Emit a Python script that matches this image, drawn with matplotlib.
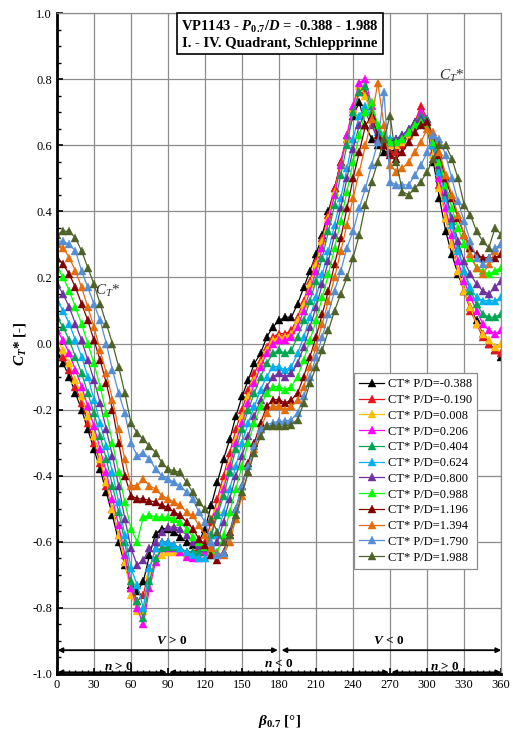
import matplotlib
matplotlib.use("Agg")
import matplotlib.pyplot as plt
import numpy as np

plt.rcParams['font.family'] = ['Liberation Serif', 'DejaVu Serif']
plt.rcParams['mathtext.fontset'] = 'custom'
plt.rcParams['mathtext.rm'] = 'Liberation Serif'
plt.rcParams['mathtext.it'] = 'Liberation Serif:italic'
plt.rcParams['mathtext.bf'] = 'Liberation Serif:italic:bold'
plt.rcParams['mathtext.sf'] = 'Liberation Serif:bold'

# Anstellwinkel beta_0.7 [deg]
beta = list(range(0, 361, 5))

pd_labels = ['-0.388', '-0.190', '0.008', '0.206', '0.404', '0.624',
             '0.800', '0.988', '1.196', '1.394', '1.790', '1.988']
colors = ['#000000', '#e8141c', '#ffc000', '#ff00ff', '#00a651', '#00b0f0',
          '#7030a0', '#00ff00', '#800000', '#e46c0a', '#558ed5', '#4f6228']

ct_m0388 = [-0.03, -0.06, -0.10, -0.15, -0.20, -0.26, -0.32, -0.38, -0.45, -0.52, -0.60, -0.67,
            -0.73, -0.75, -0.72, -0.64, -0.575, -0.56, -0.56, -0.57, -0.585, -0.60, -0.61, -0.60,
            -0.56, -0.49, -0.42, -0.35, -0.29, -0.22, -0.16, -0.11, -0.06, -0.03, 0.02, 0.05,
            0.07, 0.08, 0.08, 0.12, 0.17, 0.22, 0.27, 0.33, 0.40, 0.47, 0.55, 0.62,
            0.69, 0.73, 0.66, 0.62, 0.60, 0.58, 0.58, 0.59, 0.61, 0.63, 0.66, 0.68,
            0.66, 0.55, 0.44, 0.34, 0.27, 0.21, 0.16, 0.11, 0.07, 0.03, 0.00, -0.02,
            -0.04]
ct_m0190 = [-0.01, -0.04, -0.08, -0.13, -0.18, -0.24, -0.30, -0.36, -0.43, -0.50, -0.58, -0.66,
            -0.74, -0.78, -0.76, -0.68, -0.62, -0.60, -0.60, -0.61, -0.62, -0.63, -0.63, -0.62,
            -0.60, -0.54, -0.47, -0.40, -0.33, -0.26, -0.20, -0.14, -0.09, -0.05, -0.01, 0.02,
            0.03, 0.03, 0.04, 0.08, 0.13, 0.19, 0.25, 0.32, 0.39, 0.47, 0.55, 0.63,
            0.71, 0.76, 0.76, 0.68, 0.62, 0.60, 0.58, 0.58, 0.60, 0.63, 0.67, 0.72,
            0.68, 0.58, 0.48, 0.38, 0.30, 0.22, 0.16, 0.10, 0.06, 0.02, 0.00, -0.02,
            -0.03]
ct_0008 = [0.01, -0.02, -0.06, -0.11, -0.16, -0.22, -0.28, -0.35, -0.42, -0.50, -0.58, -0.66,
           -0.76, -0.81, -0.81, -0.70, -0.66, -0.64, -0.63, -0.63, -0.63, -0.64, -0.64, -0.64,
           -0.62, -0.57, -0.50, -0.43, -0.36, -0.29, -0.22, -0.16, -0.11, -0.06, -0.02, 0.01,
           0.02, 0.02, 0.03, 0.07, 0.12, 0.18, 0.24, 0.31, 0.38, 0.46, 0.54, 0.62,
           0.71, 0.78, 0.75, 0.68, 0.63, 0.61, 0.60, 0.60, 0.61, 0.63, 0.66, 0.69,
           0.66, 0.57, 0.47, 0.38, 0.30, 0.22, 0.16, 0.11, 0.06, 0.03, 0.01, -0.01,
           0.00]
ct_0206 = [0.04, 0.01, -0.03, -0.08, -0.13, -0.19, -0.25, -0.32, -0.39, -0.47, -0.55, -0.64,
           -0.74, -0.80, -0.85, -0.74, -0.66, -0.62, -0.62, -0.62, -0.63, -0.645, -0.65, -0.65,
           -0.63, -0.58, -0.51, -0.44, -0.37, -0.30, -0.24, -0.18, -0.12, -0.07, -0.03, 0.00,
           0.01, 0.01, 0.02, 0.05, 0.10, 0.16, 0.22, 0.29, 0.37, 0.45, 0.54, 0.63,
           0.72, 0.79, 0.80, 0.72, 0.65, 0.62, 0.61, 0.61, 0.62, 0.64, 0.67, 0.70,
           0.68, 0.60, 0.50, 0.41, 0.33, 0.25, 0.19, 0.14, 0.10, 0.06, 0.04, 0.03,
           0.04]
ct_0404 = [0.08, 0.05, 0.01, -0.04, -0.09, -0.15, -0.21, -0.28, -0.35, -0.43, -0.51, -0.60,
           -0.72, -0.78, -0.83, -0.72, -0.65, -0.62, -0.615, -0.615, -0.62, -0.63, -0.63, -0.63,
           -0.62, -0.58, -0.52, -0.46, -0.39, -0.32, -0.26, -0.20, -0.15, -0.10, -0.06, -0.03,
           -0.02, -0.03, -0.02, 0.02, 0.07, 0.13, 0.19, 0.26, 0.34, 0.42, 0.51, 0.60,
           0.70, 0.76, 0.78, 0.70, 0.65, 0.63, 0.62, 0.62, 0.63, 0.65, 0.67, 0.69,
           0.68, 0.61, 0.53, 0.45, 0.37, 0.29, 0.22, 0.16, 0.12, 0.09, 0.08, 0.08,
           0.09]
ct_0624 = [0.13, 0.10, 0.06, 0.01, -0.04, -0.10, -0.17, -0.24, -0.31, -0.39, -0.48, -0.58,
           -0.68, -0.73, -0.80, -0.68, -0.62, -0.60, -0.60, -0.61, -0.62, -0.63, -0.64, -0.65,
           -0.65, -0.64, -0.58, -0.51, -0.44, -0.37, -0.30, -0.24, -0.19, -0.14, -0.10, -0.07,
           -0.07, -0.08, -0.07, -0.03, 0.02, 0.08, 0.14, 0.21, 0.28, 0.36, 0.44, 0.53,
           0.62, 0.69, 0.72, 0.68, 0.64, 0.63, 0.62, 0.62, 0.63, 0.64, 0.66, 0.68,
           0.66, 0.60, 0.52, 0.44, 0.36, 0.28, 0.22, 0.17, 0.14, 0.13, 0.13, 0.13,
           0.14]
ct_0800 = [0.18, 0.15, 0.11, 0.06, 0.01, -0.05, -0.11, -0.18, -0.26, -0.34, -0.43, -0.53,
           -0.62, -0.67, -0.655, -0.62, -0.60, -0.57, -0.555, -0.555, -0.56, -0.58, -0.60, -0.61,
           -0.62, -0.62, -0.60, -0.54, -0.47, -0.40, -0.34, -0.28, -0.22, -0.17, -0.13, -0.10,
           -0.09, -0.10, -0.09, -0.06, -0.01, 0.05, 0.11, 0.18, 0.25, 0.33, 0.41, 0.50,
           0.59, 0.66, 0.70, 0.66, 0.62, 0.61, 0.61, 0.62, 0.63, 0.65, 0.67, 0.68,
           0.67, 0.61, 0.54, 0.46, 0.38, 0.31, 0.25, 0.21, 0.18, 0.16, 0.15, 0.17,
           0.19]
ct_0988 = [0.23, 0.20, 0.16, 0.11, 0.06, 0.00, -0.06, -0.13, -0.21, -0.30, -0.39, -0.48,
           -0.56, -0.60, -0.525, -0.52, -0.525, -0.525, -0.525, -0.53, -0.54, -0.56, -0.585, -0.60,
           -0.615, -0.63, -0.63, -0.58, -0.51, -0.44, -0.37, -0.30, -0.24, -0.19, -0.15, -0.13,
           -0.13, -0.14, -0.13, -0.10, -0.05, 0.01, 0.07, 0.14, 0.21, 0.29, 0.37, 0.46,
           0.55, 0.63, 0.70, 0.73, 0.66, 0.63, 0.61, 0.61, 0.62, 0.64, 0.66, 0.67,
           0.66, 0.61, 0.55, 0.48, 0.41, 0.35, 0.30, 0.26, 0.23, 0.22, 0.21, 0.22,
           0.23]
ct_1196 = [0.26, 0.24, 0.21, 0.17, 0.12, 0.07, 0.01, -0.05, -0.12, -0.20, -0.30, -0.40,
           -0.46, -0.47, -0.47, -0.475, -0.48, -0.49, -0.495, -0.51, -0.52, -0.54, -0.56, -0.59,
           -0.61, -0.64, -0.655, -0.63, -0.57, -0.50, -0.43, -0.36, -0.30, -0.24, -0.19, -0.17,
           -0.17, -0.18, -0.17, -0.15, -0.10, -0.04, 0.02, 0.09, 0.16, 0.24, 0.32, 0.41,
           0.50, 0.58, 0.66, 0.69, 0.63, 0.60, 0.57, 0.56, 0.58, 0.61, 0.64, 0.66,
           0.67, 0.63, 0.57, 0.50, 0.44, 0.38, 0.33, 0.29, 0.27, 0.26, 0.26, 0.26,
           0.27]
ct_1394 = [0.30, 0.29, 0.26, 0.22, 0.17, 0.11, 0.05, -0.02, -0.09, -0.17, -0.26, -0.35,
           -0.43, -0.43, -0.41, -0.43, -0.44, -0.46, -0.47, -0.48, -0.49, -0.51, -0.52, -0.55,
           -0.58, -0.62, -0.635, -0.64, -0.60, -0.53, -0.46, -0.39, -0.32, -0.26, -0.21, -0.19,
           -0.19, -0.20, -0.19, -0.17, -0.13, -0.07, -0.01, 0.06, 0.13, 0.20, 0.28, 0.36,
           0.44, 0.52, 0.60, 0.68, 0.79, 0.66, 0.54, 0.52, 0.53, 0.55, 0.58, 0.61,
           0.65, 0.64, 0.58, 0.51, 0.45, 0.39, 0.33, 0.27, 0.23, 0.21, 0.24, 0.28,
           0.30]
ct_1790 = [0.31, 0.31, 0.30, 0.28, 0.22, 0.17, 0.12, 0.07, 0.00, -0.08, -0.15, -0.21,
           -0.30, -0.34, -0.33, -0.35, -0.38, -0.40, -0.41, -0.42, -0.43, -0.45, -0.47, -0.51,
           -0.54, -0.60, -0.64, -0.635, -0.58, -0.50, -0.43, -0.37, -0.31, -0.26, -0.245, -0.24,
           -0.235, -0.235, -0.23, -0.21, -0.16, -0.10, -0.04, 0.02, 0.09, 0.16, 0.22, 0.29,
           0.34, 0.41, 0.47, 0.54, 0.61, 0.76, 0.49, 0.48, 0.48, 0.48, 0.51, 0.54,
           0.58, 0.63, 0.62, 0.57, 0.50, 0.43, 0.37, 0.31, 0.26, 0.24, 0.26, 0.29,
           0.30]
ct_1988 = [0.33, 0.34, 0.34, 0.32, 0.28, 0.23, 0.18, 0.12, 0.06, 0.00, -0.07, -0.15,
           -0.24, -0.27, -0.29, -0.31, -0.33, -0.36, -0.38, -0.385, -0.39, -0.42, -0.45, -0.48,
           -0.50, -0.53, -0.57, -0.60, -0.58, -0.52, -0.45, -0.39, -0.33, -0.28, -0.25, -0.25,
           -0.25, -0.25, -0.245, -0.23, -0.18, -0.12, -0.07, -0.02, 0.04, 0.10, 0.15, 0.20,
           0.26, 0.33, 0.42, 0.49, 0.55, 0.62, 0.69, 0.55, 0.46, 0.45, 0.47, 0.49,
           0.52, 0.56, 0.60, 0.60, 0.56, 0.50, 0.42, 0.39, 0.34, 0.31, 0.29, 0.35,
           0.33]

series = [ct_m0388, ct_m0190, ct_0008, ct_0206, ct_0404, ct_0624,
          ct_0800, ct_0988, ct_1196, ct_1394, ct_1790, ct_1988]

fig = plt.figure(figsize=(5.13, 7.31), dpi=100)
ax = fig.add_axes([0.111, 0.078, 0.866, 0.904])

for vals, lab, col in zip(series, pd_labels, colors):
    ax.plot(beta, vals, color=col, lw=0.9, marker='^', markersize=5.5,
            markeredgewidth=0.3, label='CT* P/D=' + lab)

yt = [round(v, 1) for v in np.arange(-1.0, 1.01, 0.2)]
ax.set_xlim(0, 360)
ax.set_ylim(-1.0, 1.0)
ax.set_xticks(np.arange(0, 361, 30))
ax.set_yticks(yt)
ax.set_xticks(np.arange(0, 361, 5), minor=True)
ax.set_yticks(np.arange(-1.0, 1.01, 0.05), minor=True)
ax.set_yticklabels(['%.1f' % (v + 0.0) for v in yt])
ax.tick_params(which='both', direction='in', labelsize=9, color='black')
ax.tick_params(which='major', length=4, width=1.2)
ax.tick_params(which='minor', length=3, width=1.0)
ax.grid(True, which='major', color='#8c8c8c', lw=0.9)
ax.set_axisbelow(True)
for s in ['left', 'bottom']:
    ax.spines[s].set_linewidth(2.0)
for s in ['top', 'right']:
    ax.spines[s].set_color('#8c8c8c')
    ax.spines[s].set_linewidth(0.9)

ax.set_xlabel(r'$\mathbf{\beta}_{\mathsf{0.7}}$ [°]', fontsize=11, fontweight='bold', labelpad=16)
ax.set_ylabel(r'$\mathbf{C}_{\mathbf{T}}$* [-]', fontsize=11, fontweight='bold', labelpad=3)

ax.text(0.502, 0.992, 'VP1143 - $\\mathbf{P}_{\\mathsf{0.7}}\\mathsf{/}\\mathbf{D}$ = -0.388 - 1.988\n'
        'I. - IV. Quadrant, Schlepprinne',
        transform=ax.transAxes, ha='center', va='top', fontsize=10.5, fontweight='bold',
        linespacing=1.25,
        bbox=dict(boxstyle='square,pad=0.3', fc='white', ec='black', lw=1.2))

ax.text(41, 0.16, r'$C_T$*', fontsize=11, ha='center', va='center', color='#333333')
ax.text(320, 0.81, r'$C_T$*', fontsize=11, ha='center', va='center', color='#333333')

# Bereichspfeile
arr = dict(arrowstyle='<|-|>', color='black', lw=1.3, mutation_scale=7, shrinkA=0, shrinkB=0)
ax.annotate('', xy=(0.5, -0.928), xytext=(179, -0.928), arrowprops=arr)
ax.annotate('', xy=(182, -0.928), xytext=(360, -0.928), arrowprops=arr)
ax.annotate('', xy=(0.5, -0.995), xytext=(89, -0.995), arrowprops=arr)
ax.annotate('', xy=(91, -0.995), xytext=(269, -0.995), arrowprops=arr)
ax.annotate('', xy=(271, -0.995), xytext=(360, -0.995), arrowprops=arr)
ax.text(93, -0.90, r'$\mathbf{V}$ > 0', ha='center', va='center', fontsize=9.5, fontweight='bold')
ax.text(269, -0.90, r'$\mathbf{V}$ < 0', ha='center', va='center', fontsize=9.5, fontweight='bold')
ax.text(50, -0.978, r'$\mathbf{n}$ > 0', ha='center', va='center', fontsize=9.5, fontweight='bold')
ax.text(180, -0.97, r'$\mathbf{n}$ < 0', ha='center', va='center', fontsize=9.5, fontweight='bold')
ax.text(314, -0.978, r'$\mathbf{n}$ > 0', ha='center', va='center', fontsize=9.5, fontweight='bold')

leg = ax.legend(loc='upper left', bbox_to_anchor=(0.669, 0.455), fontsize=9,
                handlelength=2.0, handletextpad=0.3, labelspacing=0.3,
                borderaxespad=0, fancybox=False, framealpha=1, edgecolor='#8c8c8c',
                borderpad=0.4)
leg.get_frame().set_linewidth(0.9)

fig.savefig('out.png', dpi=100)
